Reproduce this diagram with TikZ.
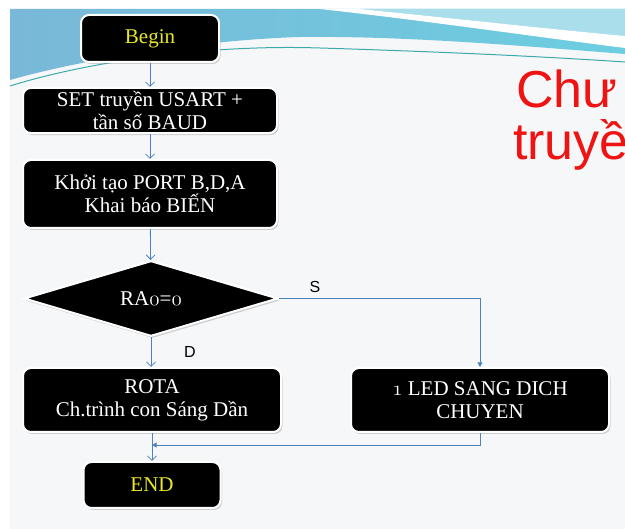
\documentclass[tikz,border=0pt]{standalone}
\usepackage{fix-cm}
\usepackage{fontspec}
\setmainfont{Liberation Serif}
\newfontfamily\arialfont{Liberation Sans}
\usetikzlibrary{positioning,shapes.geometric,arrows.meta,shadows}

\definecolor{linkblue}{RGB}{79,129,189}
\definecolor{bandblue}{RGB}{122,184,216}
\definecolor{bandcyan}{RGB}{108,206,224}
\definecolor{palecyan}{RGB}{170,222,234}
\definecolor{tealline}{RGB}{60,170,170}
\definecolor{slidegray}{RGB}{246,247,248}
\definecolor{termyellow}{RGB}{232,232,40}
\definecolor{titlered}{RGB}{238,20,20}

\tikzset{
  blk/.style={draw=white, line width=2pt, fill=black, rounded corners=8pt,
    text=white, align=center, font=\fontsize{21}{23}\selectfont,
    drop shadow={shadow xshift=1.5pt, shadow yshift=-2pt, opacity=0.35}},
  term/.style={blk, text=termyellow},
  cond/.style={diamond, draw=white, line width=2pt, fill=black, text=white,
    inner sep=0pt, font=\fontsize{21}{23}\selectfont,
    drop shadow={shadow xshift=1.5pt, shadow yshift=-2pt, opacity=0.35}},
  flow/.style={draw=linkblue, line width=0.8pt},
  openarr/.style={flow, -{Straight Barb[length=4.5pt,width=9pt]}},
  fullarr/.style={flow, -{Triangle[length=4.5pt,width=5pt]}},
  lbl/.style={font=\arialfont\fontsize{16}{18}\selectfont},
}

\begin{document}
\begin{tikzpicture}[x=1pt,y=-1pt]
  \useasboundingbox (0,0) rectangle (625,529);

  % Slide background
  \fill[white] (0,0) rectangle (625,529);
  \fill[slidegray] (10,9) rectangle (625,529);

  % Top wave
  \shade[left color=bandblue, right color=bandcyan]
    (10,9) -- (625,9) -- (625,54)
    .. controls (500,44) and (400,36) .. (300,37)
    .. controls (200,40) and (80,60) .. (10,80) -- cycle;
  \fill[palecyan] (360,9) .. controls (450,18) and (540,28) .. (625,36) -- (625,9) -- cycle;
  \fill[white] (320,9) .. controls (420,20) and (530,36) .. (625,48)
    -- (625,36) .. controls (540,28) and (450,18) .. (360,9) -- cycle;
  \draw[tealline, line width=1pt] (10,86) .. controls (80,64) and (200,44) .. (320,48)
    .. controls (450,52) and (550,57) .. (625,62);

  % Title, cut off at the edge
  \node[anchor=base west, inner sep=0pt, text=titlered,
    font=\arialfont\fontsize{52}{58}\selectfont] (title1) at (516,108) {Chư};
  \node[anchor=base west, inner sep=0pt, text=titlered,
    font=\arialfont\fontsize{52}{58}\selectfont] (title2) at (513,160) {truyề};

  % Flowchart steps
  \node[term, minimum width=138pt, minimum height=47pt] (begin) at (150,38.5) {Begin};
  \node[blk, minimum width=254pt, minimum height=45pt] (usart) at (150,110.5)
    {SET truyền USART +\\tần số BAUD};
  \node[blk, minimum width=254pt, minimum height=68pt] (init) at (150,194)
    {Khởi tạo PORT B,D,A\\Khai báo BIẾN};
  \node[cond, minimum width=254pt, minimum height=71pt] (test) at (151,298.5)
    {RA$\mathnormal{0}$=$\mathnormal{0}$};
  \node[blk, minimum width=258pt, minimum height=64pt] (rota) at (152,400)
    {ROTA\\Ch.trình con Sáng Dần};
  \node[blk, minimum width=258pt, minimum height=64pt] (shift) at (480,400)
    {$\mathnormal{1}$ LED SANG DICH\\CHUYEN};
  \node[term, minimum width=137pt, minimum height=46pt] (finish) at (152,485) {END};

  % Connectors
  \coordinate (join) at (152,445);
  \draw[openarr] (begin) -- (usart);
  \draw[openarr] (usart) -- (init);
  \draw[openarr] (init) -- (test);
  \draw[openarr] (test.south) -- (rota.north -| test.south);
  \draw[fullarr] (test.east) -| (shift.north);
  \draw[fullarr] (shift.south) |- (join);
  \draw[openarr] (rota) -- (finish);

  % Branch labels
  \node[lbl] (yes) at (315,287) {S};
  \node[lbl] (no) at (190,352) {D};
\end{tikzpicture}
\end{document}
